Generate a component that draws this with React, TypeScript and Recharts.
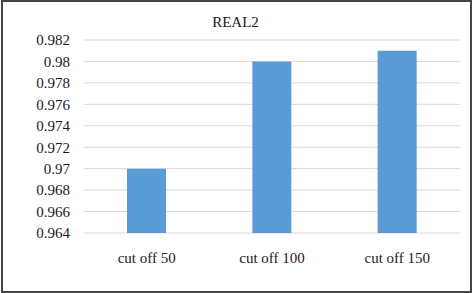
import React from 'react';
import { BarChart, Bar, XAxis, YAxis, CartesianGrid } from 'recharts';

const categories = ['cut off 50', 'cut off 100', 'cut off 150'];
const values = [0.97, 0.98, 0.981];
const yTicks = [0.964, 0.966, 0.968, 0.97, 0.972, 0.974, 0.976, 0.978, 0.98, 0.982];
const title = 'REAL2';

const data = categories.map((c, i) => ({ name: c, value: values[i] }));

const font = 'Liberation Serif';

export default function App() {
  return (
    <div style={{ position: 'absolute', left: 0, top: 0, width: 472, height: 293, background: '#fff' }}>
      <div
        style={{
          position: 'absolute',
          left: 1,
          top: 0,
          width: 471,
          height: 293,
          boxSizing: 'border-box',
          border: '2px solid #454545',
        }}
      />
      <div
        style={{
          position: 'absolute',
          left: 0,
          top: 14,
          width: 471,
          textAlign: 'center',
          fontFamily: font,
          fontSize: 15,
          color: '#1a1a1a',
        }}
      >
        {title}
      </div>
      <div style={{ position: 'absolute', left: 0, top: 0 }}>
        <BarChart
          width={472}
          height={293}
          data={data}
          margin={{ top: 40, right: 12, bottom: 30, left: 0 }}
          barSize={39}
          style={{ fontFamily: font }}
        >
          <CartesianGrid vertical={false} stroke="#D9D9D9" strokeWidth={1} />
          <XAxis
            dataKey="name"
            height={30}
            axisLine={false}
            tickLine={false}
            tickMargin={13}
            tick={{ fontFamily: font, fontSize: 15, fill: '#1a1a1a' }}
          />
          <YAxis
            width={84}
            domain={[0.964, 0.982]}
            ticks={yTicks}
            interval={0}
            axisLine={false}
            tickLine={false}
            tickMargin={8}
            tickFormatter={(v: number) => String(Number(v.toFixed(3)))}
            tick={{ fontFamily: font, fontSize: 15, fill: '#1a1a1a' }}
          />
          <Bar dataKey="value" fill="#5B9BD5" isAnimationActive={false} />
        </BarChart>
      </div>
    </div>
  );
}
